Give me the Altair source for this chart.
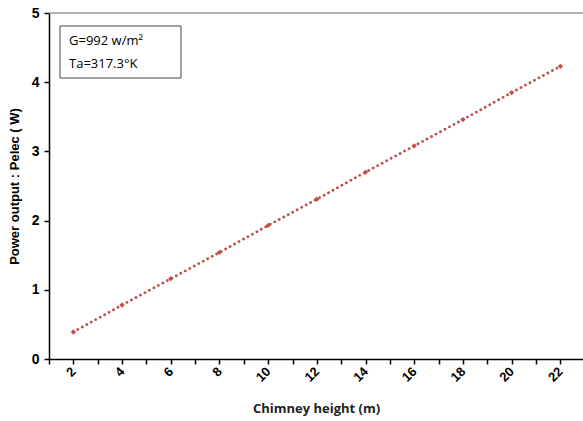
import altair as alt
import pandas as pd

heights = [2, 4, 6, 8, 10, 12, 14, 16, 18, 20, 22]
power = [0.39, 0.78, 1.16, 1.54, 1.93, 2.31, 2.70, 3.08, 3.46, 3.85, 4.23]
x_ticks = list(range(1, 24))
y_ticks = [0, 1, 2, 3, 4, 5]
notes = ["G=992 w/m²", "Ta=317.3°K"]

df = pd.DataFrame({"h": heights, "p": power})

RED = "#C0504D"

x_scale = alt.Scale(domain=[1, 22.93], nice=False, zero=False)
y_scale = alt.Scale(domain=[0, 5], nice=False)

x_enc = alt.X(
    "h:Q", scale=x_scale,
    axis=alt.Axis(
        values=x_ticks, title="Chimney height (m)",
        labelExpr="datum.value % 2 == 0 ? datum.label : ''",
        labelAngle=-45, labelAlign="right", labelBaseline="middle",
        labelFont="Liberation Sans", labelFontWeight="bold", labelFontSize=13,
        labelColor="black", labelPadding=5,
        titleFont="Open Sans", titleFontWeight="bold", titleFontSize=13,
        titleColor="#222", titlePadding=18,
        domainColor="black", domainWidth=1.5, tickColor="black", tickSize=5,
        tickWidth=1.5, grid=False,
    ),
)
y_enc = alt.Y(
    "p:Q", scale=y_scale,
    axis=alt.Axis(
        values=y_ticks, title="Power output : Pelec ( W)", format="d",
        labelFont="Liberation Sans", labelFontWeight="bold", labelFontSize=14,
        labelColor="black", labelPadding=5,
        titleFont="Liberation Sans", titleFontWeight="bold", titleFontSize=13,
        titleColor="black", titlePadding=10,
        domainColor="black", domainWidth=1.5, tickColor="black", tickSize=5,
        tickWidth=1.5, grid=False,
    ),
)

top = alt.Chart(pd.DataFrame({"p": [5]})).mark_rule(
    color="#999", strokeWidth=1.5
).encode(y=y_enc, x=alt.value(0), x2=alt.value(534))

line = alt.Chart(df).mark_line(
    color=RED, strokeDash=[0.1, 5], strokeWidth=2.8, strokeCap="round"
).encode(x=x_enc, y=y_enc)

points = alt.Chart(df).mark_point(
    shape="diamond", filled=True, color=RED, size=28, opacity=1
).encode(x=x_enc, y=y_enc)

box = alt.Chart(pd.DataFrame({"a": [0]})).mark_rect(
    fill="white", stroke="#444", strokeWidth=1
).encode(x=alt.value(11), x2=alt.value(132), y=alt.value(13), y2=alt.value(65))

text1 = alt.Chart(pd.DataFrame({"t": [notes[0]]})).mark_text(
    align="left", baseline="middle", font="Open Sans", fontSize=13, color="black"
).encode(text="t:N", x=alt.value(20), y=alt.value(28))

text2 = alt.Chart(pd.DataFrame({"t": [notes[1]]})).mark_text(
    align="left", baseline="middle", font="Open Sans", fontSize=13, color="black"
).encode(text="t:N", x=alt.value(20), y=alt.value(51))

chart = alt.layer(top, line, points, box, text1, text2).properties(
    width=534, height=346,
    padding={"left": 49, "top": 13, "right": 0, "bottom": 62},
    autosize=alt.AutoSizeParams(type="none"),
).configure_view(stroke=None)

chart.save("out.html", embed_options={"renderer": "svg", "actions": False})
